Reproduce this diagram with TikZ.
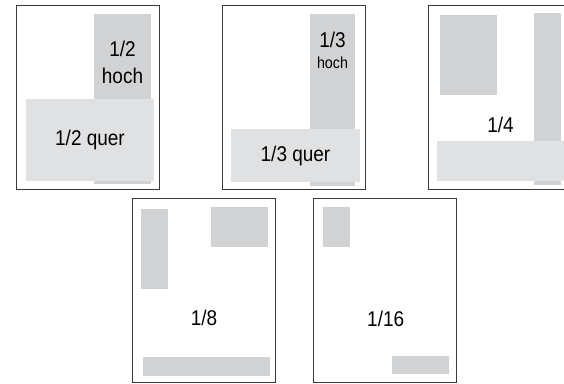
\documentclass[tikz,border=0pt]{standalone}
\usepackage{fontspec}
\setmainfont{Liberation Sans}[FakeStretch=0.89]
\usetikzlibrary{positioning}

\tikzset{
  sheet/.style={draw={rgb, 255:red, 58; green, 58; blue, 58 }, line width=0.9},
  darkgrey/.style={fill={rgb, 255:red, 209; green, 210; blue, 212 }},
  lightgrey/.style={fill={rgb, 255:red, 224; green, 225; blue, 227 }},
  bigtext/.style={font=\fontsize{16}{20.5}\selectfont, align=center, inner sep=0},
  smalltext/.style={font=\fontsize{12}{13}\selectfont, inner sep=0}
}

\begin{document}
\begin{tikzpicture}[x=0.75pt,y=0.75pt,yscale=-1,xscale=1]
\useasboundingbox (0,0) rectangle (564,383);
\clip (0,0) rectangle (564,383);

%Page 1/2
\fill [darkgrey]  (94,14) rectangle (151,184) ;
\fill [lightgrey]  (26,99) rectangle (154,181) ;
\draw [sheet]  (16.5,5.5) rectangle (159.5,189.5) ;
% Text Node
\node [bigtext] (halfhoch) at (122.5,62.5) {1/2\\hoch};
% Text Node
\node [bigtext] (halfquer) at (90,140) {1/2 quer};

%Page 1/3
\fill [darkgrey]  (310,14) rectangle (355,185.5) ;
\fill [lightgrey]  (231,129) rectangle (360,181.5) ;
\draw [sheet]  (222.5,5.5) rectangle (365.5,189.5) ;
% Text Node
\node [bigtext] (thirdnum) at (332.5,39.5) {1/3};
% Text Node
\node [smalltext, below=9 of thirdnum] (thirdhoch) {hoch};
% Text Node
\node [bigtext] (thirdquer) at (295.5,155.5) {1/3 quer};

%Page 1/4
\fill [darkgrey]  (440,15) rectangle (497,94.5) ;
\fill [darkgrey]  (534,13) rectangle (561,184.5) ;
\fill [lightgrey]  (437,141) rectangle (580,180.7) ;
\draw [sheet]  (428.5,5.5) rectangle (571.5,189.5) ;
% Text Node
\node [bigtext] (quarter) at (500.5,124.5) {1/4};

%Page 1/8
\fill [darkgrey]  (141,209) rectangle (168,288.5) ;
\fill [darkgrey]  (211,207) rectangle (267.5,246.5) ;
\fill [darkgrey]  (143,357) rectangle (270,375.5) ;
\draw [sheet]  (132.5,198.5) rectangle (275.5,382.3) ;
% Text Node
\node [bigtext] (eighth) at (204,318) {1/8};

%Page 1/16
\fill [darkgrey]  (323,207) rectangle (350,246.5) ;
\fill [darkgrey]  (392,356) rectangle (448.5,374.3) ;
\draw [sheet]  (313.5,198.5) rectangle (456.5,382.3) ;
% Text Node
\node [bigtext] (sixteenth) at (385.7,318.5) {1/16};

\end{tikzpicture}
\end{document}
